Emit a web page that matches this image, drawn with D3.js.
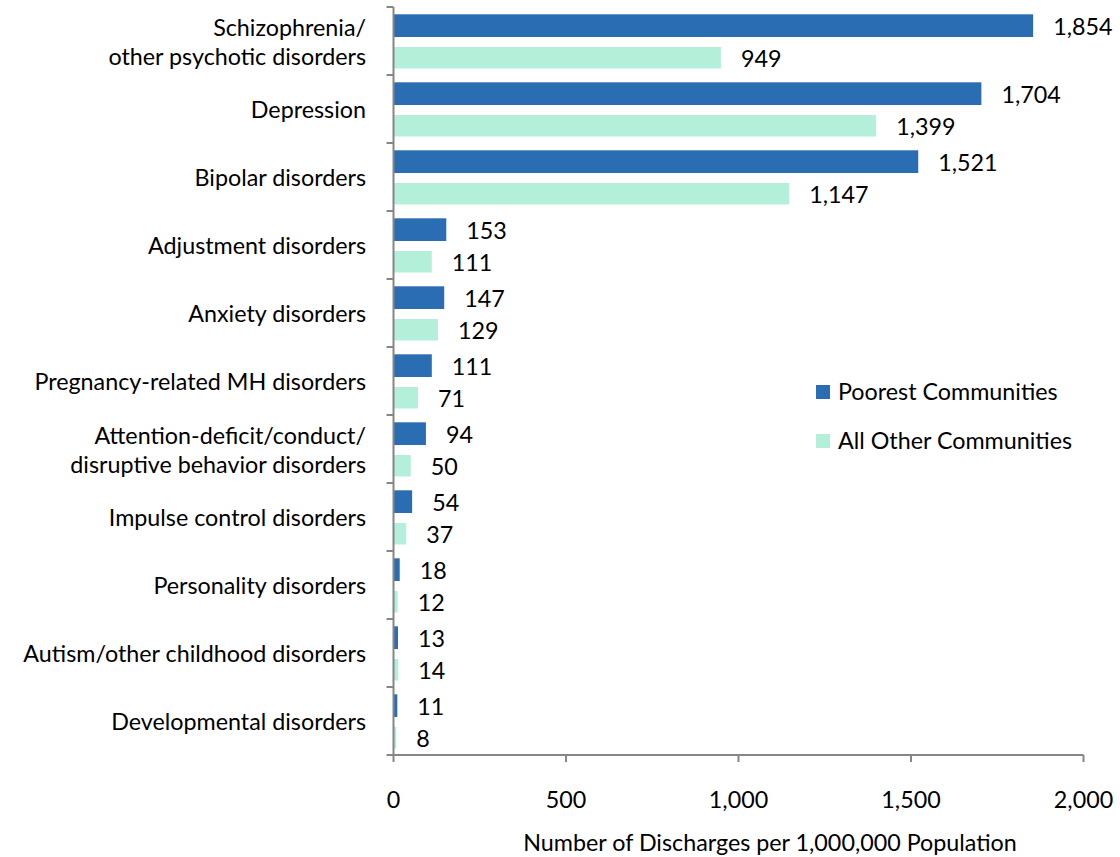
<!DOCTYPE html>
<html><head><meta charset="utf-8">
<script src="https://cdn.jsdelivr.net/npm/d3@7"></script>
<style>body{margin:0;background:#fff}svg{display:block}text{font-family:Lato,"Noto Sans",sans-serif;fill:#000}</style>
</head><body>
<svg id="c" width="1120" height="857"></svg>
<script>
const categories = [
  ["Schizophrenia/","other psychotic disorders"],
  ["Depression"],
  ["Bipolar disorders"],
  ["Adjustment disorders"],
  ["Anxiety disorders"],
  ["Pregnancy-related MH disorders"],
  ["Attention-deficit/conduct/","disruptive behavior disorders"],
  ["Impulse control disorders"],
  ["Personality disorders"],
  ["Autism/other childhood disorders"],
  ["Developmental disorders"]
];
const poorest = [1854,1704,1521,153,147,111,94,54,18,13,11];
const allOther = [949,1399,1147,111,129,71,50,37,12,14,8];
const seriesNames = ["Poorest Communities","All Other Communities"];
const xTicks = [0,500,1000,1500,2000];
const xTitle = "Number of Discharges per 1,000,000 Population";

const colors = ["#2A6DB2","#B4EFDA"];
const FS = 23.3;
const svg = d3.select("#c");
const L = 393.5, R = 1083.5, T = 7, B = 755;
const x = d3.scaleLinear().domain([0,2000]).range([L,R]);
const y = d3.scaleBand().domain(d3.range(categories.length)).range([T,B]).paddingInner(0).paddingOuter(0);
const bw = y.bandwidth();
const fmt = d3.format(",");
const axisCol = "#868686";

// bars
const g = svg.append("g");
const series = [poorest, allOther];
series.forEach((vals, si) => {
  const offTop = si === 0 ? 7.3 : 40;
  const h = si === 0 ? 22.7 : 21.5;
  g.selectAll(null).data(vals).enter().append("rect")
    .attr("x", L)
    .attr("y", (d,i) => y(i) + offTop)
    .attr("width", d => x(d) - L)
    .attr("height", h)
    .attr("fill", colors[si]);
  g.selectAll(null).data(vals).enter().append("text")
    .attr("x", d => x(d) + 20)
    .attr("y", (d,i) => y(i) + offTop + h/2 + 1)
    .attr("dy", "0.35em")
    .attr("font-size", FS)
    .text(d => fmt(d));
});

// y axis
const ya = svg.append("g").attr("stroke", axisCol).attr("stroke-width", 2);
ya.append("line").attr("x1", L).attr("x2", L).attr("y1", T).attr("y2", B);
d3.range(categories.length + 1).forEach(i => {
  const yy = i < categories.length ? y(i) : B;
  ya.append("line").attr("x1", L - 7).attr("x2", L).attr("y1", yy).attr("y2", yy);
});
// x axis
ya.append("line").attr("x1", L).attr("x2", R).attr("y1", B).attr("y2", B);
xTicks.forEach(t => {
  ya.append("line").attr("x1", x(t)).attr("x2", x(t)).attr("y1", B).attr("y2", B + 7);
});
svg.selectAll(".xt").data(xTicks).enter().append("text")
  .attr("x", d => x(d)).attr("y", 808).attr("text-anchor", "middle")
  .attr("font-size", FS).text(d => fmt(d));
svg.append("text").attr("x", 770).attr("y", 851).attr("text-anchor","middle")
  .attr("font-size", FS).text(xTitle);

// category labels
categories.forEach((lines, i) => {
  const cy = y(i) + bw/2 + 1;
  const lh = 29;
  lines.forEach((ln, j) => {
    svg.append("text").attr("x", 366).attr("text-anchor","end")
      .attr("y", cy + (j - (lines.length-1)/2) * lh).attr("dy","0.35em")
      .attr("font-size", FS).text(ln);
  });
});

// legend
seriesNames.forEach((n, i) => {
  const ly = 392 + i * 49;
  svg.append("rect").attr("x", 816).attr("y", ly - 7).attr("width", 14).attr("height", 14).attr("fill", colors[i]);
  svg.append("text").attr("x", 838).attr("y", ly).attr("dy","0.35em").attr("font-size", FS).text(n);
});
</script>
</body></html>
